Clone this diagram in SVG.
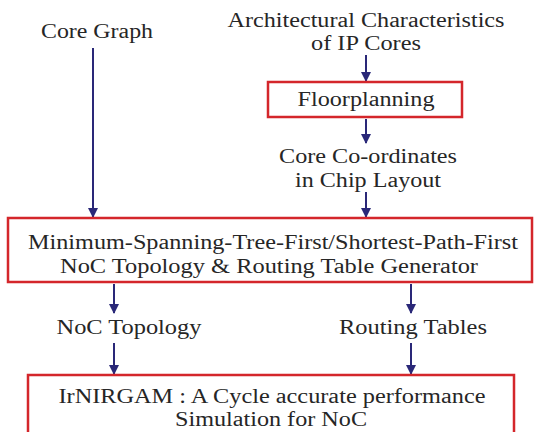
<svg xmlns="http://www.w3.org/2000/svg" width="534" height="432" viewBox="0 0 534 432">
<defs>
<style>
text{font-size:20px;fill:#262626;text-anchor:middle}
.box{fill:#fff;stroke:#d4262b;stroke-width:2.5}
.c{stroke:#2a2878;stroke-width:2;fill:none;marker-end:url(#ah)}
</style>
<marker id="ah" markerUnits="userSpaceOnUse" markerWidth="10" markerHeight="10" refX="9" refY="5" orient="auto" viewBox="0 0 10 10">
<path d="M0,0 L10,5 L0,10 Z" fill="#2a2878"/>
</marker>
</defs>
<rect width="534" height="432" fill="#fff"/>
<g id="connectors">
<line class="c" x1="93" y1="48" x2="93" y2="217"/>
<line class="c" x1="366" y1="55" x2="366" y2="81"/>
<line class="c" x1="366" y1="119" x2="366" y2="143"/>
<line class="c" x1="366" y1="192" x2="366" y2="217"/>
<line class="c" x1="114" y1="284" x2="114" y2="313"/>
<line class="c" x1="411" y1="284" x2="411" y2="313"/>
<line class="c" x1="114" y1="343" x2="114" y2="374"/>
<line class="c" x1="411" y1="343" x2="411" y2="374"/>
</g>
<g font-family="Liberation Serif, Times New Roman, serif">
<g id="core-graph">
<text x="97" y="38" textLength="112" lengthAdjust="spacingAndGlyphs">Core Graph</text>
</g>
<g id="arch-char">
<text x="366" y="27" textLength="277" lengthAdjust="spacingAndGlyphs">Architectural Characteristics</text>
<text x="366" y="50" textLength="110" lengthAdjust="spacingAndGlyphs">of IP Cores</text>
</g>
<g id="floorplanning">
<rect class="box" x="268" y="82" width="194" height="35"/>
<text x="366" y="106" textLength="137" lengthAdjust="spacingAndGlyphs">Floorplanning</text>
</g>
<g id="core-coords">
<text x="368" y="163" textLength="178" lengthAdjust="spacingAndGlyphs">Core Co-ordinates</text>
<text x="368" y="187" textLength="146" lengthAdjust="spacingAndGlyphs">in Chip Layout</text>
</g>
<g id="generator">
<rect class="box" x="8" y="218" width="524" height="64"/>
<text x="273" y="249" textLength="490" lengthAdjust="spacingAndGlyphs">Minimum-Spanning-Tree-First/Shortest-Path-First</text>
<text x="269" y="273" textLength="418" lengthAdjust="spacingAndGlyphs">NoC Topology &amp; Routing Table Generator</text>
</g>
<g id="noc-topology">
<text x="129" y="334" textLength="145" lengthAdjust="spacingAndGlyphs">NoC Topology</text>
</g>
<g id="routing-tables">
<text x="413" y="334" textLength="148" lengthAdjust="spacingAndGlyphs">Routing Tables</text>
</g>
<g id="irnirgam">
<rect class="box" x="28" y="375" width="486" height="70"/>
<text x="272" y="403" textLength="427" lengthAdjust="spacingAndGlyphs">IrNIRGAM : A Cycle accurate performance</text>
<text x="271" y="426" textLength="192" lengthAdjust="spacingAndGlyphs">Simulation for NoC</text>
</g>
</g>
</svg>
